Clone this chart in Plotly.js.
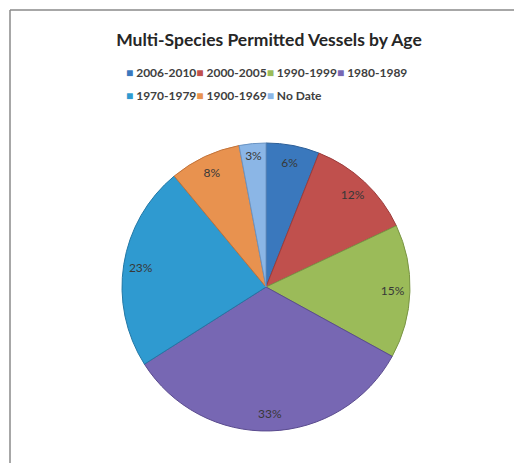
<!DOCTYPE html>
<html>
<head>
<meta charset="utf-8">
<script src="https://cdn.plot.ly/plotly-3.0.1.min.js"></script>
<style>
  html, body { margin: 0; padding: 0; background: #fff; }
  #chart { width: 514px; height: 463px; }
</style>
</head>
<body>
<div id="chart"></div>
<script>
// ---- data ----
const categories = ['2006-2010', '2000-2005', '1990-1999', '1980-1989', '1970-1979', '1900-1969', 'No Date'];
const shares = [6, 12, 15, 33, 23, 8, 3];
const sliceColors = ['#3a78bd', '#c0504d', '#9bbb59', '#7767b3', '#2f9ad0', '#e8924f', '#8bb6e6'];
const edgeColors = ['#2d5f98', '#9c3b3b', '#7a9544', '#5a4b8e', '#2378a6', '#c2733a', '#6a94c4'];
const legendRow1 = categories.slice(0, 4);
const legendRow2 = categories.slice(4);
const titleText = 'Multi-Species Permitted Vessels by Age';

const W = 514, H = 463;
const px = v => v / W;
const py = v => 1 - v / H;

const cx = 266, cy = 287, r = 144;
const domain = { x: [px(cx - r), px(cx + r)], y: [py(cy + r), py(cy - r)] };

const pieBase = {
  type: 'pie',
  labels: categories,
  values: shares,
  sort: false,
  direction: 'clockwise',
  rotation: 0,
  domain: domain,
  marker: { colors: sliceColors, line: { color: edgeColors, width: 1 } },
  textinfo: 'none',
  hoverinfo: 'label+percent',
  showlegend: false
};

const pieText = {
  type: 'pie',
  labels: categories,
  values: shares,
  sort: false,
  direction: 'clockwise',
  rotation: 0,
  domain: domain,
  hole: 0.76,
  marker: { colors: categories.map(() => 'rgba(0,0,0,0)'), line: { width: 0 } },
  texttemplate: '%{value}%',
  textposition: 'inside',
  insidetextorientation: 'horizontal',
  textfont: { family: 'Lato, sans-serif', size: 12, color: '#383838' },
  hoverinfo: 'skip',
  showlegend: false
};

function legendHtml(items) {
  return items.map(c => {
    const i = categories.indexOf(c);
    return '<span style="color:' + sliceColors[i] + '">■</span> ' + c;
  }).join('');
}

const annotations = [
  { text: legendHtml(legendRow1), x: px(124), y: py(72) },
  { text: legendHtml(legendRow2), x: px(124), y: py(95) }
].map(a => Object.assign({
  xref: 'paper', yref: 'paper', xanchor: 'left', yanchor: 'middle', showarrow: false,
  font: { family: 'Lato, sans-serif', size: 12, color: '#404040', weight: 'bold' }
}, a));

const layout = {
  width: W, height: H,
  margin: { l: 0, r: 0, t: 0, b: 0 },
  paper_bgcolor: '#ffffff',
  title: {
    text: '<b>' + titleText + '</b>',
    x: px(269), y: py(40), xref: 'paper', yref: 'paper',
    xanchor: 'center', yanchor: 'middle',
    font: { family: 'Lato, sans-serif', size: 17.5, color: '#262626' }
  },
  showlegend: false,
  annotations: annotations,
  uniformtext: { minsize: 12, mode: 'show' },
  shapes: [
    { type: 'line', xref: 'paper', yref: 'paper', x0: px(10), x1: px(10), y0: py(463), y1: py(10), line: { color: '#8a8a8a', width: 1.5 } },
    { type: 'line', xref: 'paper', yref: 'paper', x0: px(10), x1: px(514), y0: py(10), y1: py(10), line: { color: '#8a8a8a', width: 1.5 } }
  ]
};

Plotly.newPlot('chart', [pieBase, pieText], layout, { displayModeBar: false, staticPlot: true });
</script>
</body>
</html>
